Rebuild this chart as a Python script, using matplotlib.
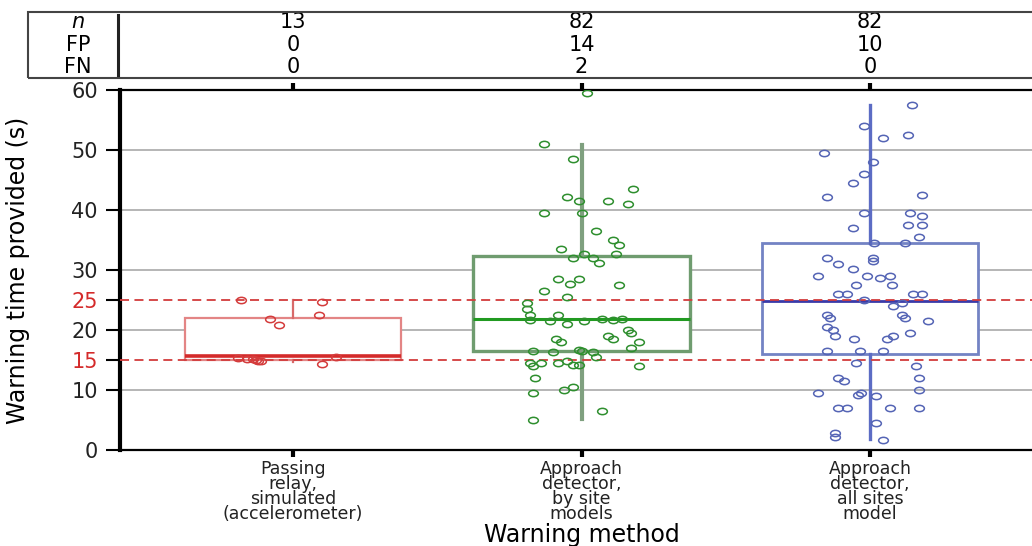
import numpy as np
import matplotlib.pyplot as plt
from matplotlib.patches import Rectangle
from matplotlib.lines import Line2D
from matplotlib.path import Path
from matplotlib.transforms import Affine2D

# Kategorie a popisky
categories = ["Passing\nrelay,\nsimulated\n(accelerometer)",
              "Approach\ndetector,\nby site\nmodels",
              "Approach\ndetector,\nall sites\nmodel"]
n_counts = [13, 82, 82]
fp_counts = [0, 14, 10]
fn_counts = [0, 2, 0]

# Statistiky boxplotu
box_q1 = [15.0, 16.5, 16.0]
box_med = [15.7, 21.8, 24.8]
box_q3 = [22.0, 32.3, 34.5]
whis_lo = [14.6, 5.2, 1.8]
whis_hi = [25.0, 50.8, 57.5]

# Jednotlivá měření (s) a horizontální rozptyl bodů
g1_vals = [25.0, 24.6, 22.5, 21.8, 20.8, 15.5, 15.3, 15.2, 15.1, 15.0, 14.9, 14.8, 14.3]
g1_jit = [-0.18, 0.10, 0.09, -0.08, -0.05, 0.15, -0.19, -0.16, -0.14, -0.13, -0.12, -0.11, 0.10]

g2_vals = [59.5, 51.0, 48.5, 43.5, 42.2, 41.5, 41.5, 41.0, 39.5, 39.5, 36.5, 35.0, 34.2,
           33.5, 32.7, 32.7, 32.0, 32.0, 31.2, 28.5, 28.5, 27.7, 27.5, 26.5, 25.5, 24.5,
           23.5, 22.5, 22.5, 21.7, 21.5, 21.0, 21.5, 21.9, 21.6, 21.9, 20.0, 19.5, 19.0,
           18.5, 18.0, 18.5, 18.0, 17.0, 16.5, 16.3, 16.6, 16.5, 16.4, 15.5, 14.5, 14.0,
           14.5, 14.5, 14.8, 14.2, 14.2, 14.0, 12.0, 10.5, 10.0, 9.5, 6.5, 5.0]
g2_jit = [0.02, -0.13, -0.03, 0.18, -0.05, -0.01, 0.09, 0.16, -0.13, 0.00, 0.05, 0.11, 0.13,
          -0.07, 0.01, 0.12, -0.03, 0.04, 0.06, -0.08, -0.01, -0.04, 0.13, -0.13, -0.05, -0.19,
          -0.19, -0.18, -0.08, -0.18, -0.11, -0.05, 0.01, 0.07, 0.11, 0.14, 0.16, 0.17, 0.09,
          0.11, 0.20, -0.09, -0.07, 0.17, -0.17, -0.10, -0.01, 0.00, 0.04, 0.05, -0.18, -0.17,
          -0.14, -0.08, -0.05, -0.03, -0.01, 0.20, -0.16, -0.03, -0.06, -0.17, 0.07, -0.17]

g3_vals = [57.5, 54.0, 52.5, 52.0, 49.5, 48.0, 46.0, 44.5, 42.2, 42.5, 39.5, 39.5, 39.0,
           37.0, 37.5, 37.5, 35.5, 34.5, 34.5, 32.0, 31.0, 32.0, 31.5, 30.2, 29.0, 29.0,
           28.7, 29.0, 27.5, 27.5, 26.0, 26.0, 26.0, 26.0, 25.0, 24.5, 24.0, 22.5, 22.0,
           22.5, 22.0, 21.5, 20.5, 20.0, 19.0, 18.5, 18.5, 19.0, 19.5, 16.5, 16.5, 16.5,
           14.5, 14.0, 12.0, 11.5, 12.0, 9.5, 9.2, 9.5, 9.0, 10.0, 7.0, 7.0, 7.0, 7.0,
           4.5, 2.8, 2.2, 1.7]
g3_jit = [0.145, -0.02, 0.13, 0.045, -0.16, 0.01, -0.02, -0.06, -0.15, 0.18, -0.02, 0.14, 0.18,
          -0.06, 0.13, 0.18, 0.17, 0.015, 0.12, -0.15, -0.11, 0.01, 0.01, -0.06, -0.18, -0.01,
          0.035, 0.07, 0.075, -0.05, -0.11, -0.08, 0.15, 0.18, -0.02, 0.11, 0.08, -0.15, -0.14,
          0.11, 0.12, 0.20, -0.15, -0.13, -0.12, -0.055, 0.06, 0.08, 0.14, -0.15, -0.035, 0.045,
          -0.05, 0.16, -0.11, -0.09, 0.17, -0.18, -0.04, -0.03, 0.02, 0.17, -0.11, -0.08, 0.07, 0.17,
          0.02, -0.12, -0.12, 0.045]

thresholds = [15, 25]

W, H = 1032, 546
def fx(px):
    return px / W
def fy(py):
    return 1 - py / H

fig = plt.figure(figsize=(W / 100, H / 100), dpi=100)
ax = fig.add_axes([fx(120), fy(450), fx(1032) - fx(120), fy(90) - fy(450)])
ax.set_xlim(-0.6, 2.5615)
ax.set_ylim(0, 60)

# Mřížka
for g in [10, 20, 30, 40, 50]:
    ax.axhline(g, color="#b0b0b0", lw=1.3, zorder=1)

# Boxploty
styles = [
    dict(edge="#e38585", elw=1.6, med="#d42a2a", mlw=2.6, whis="#d86a6a", wlw=1.6, pt="#d43c3c"),
    dict(edge="#6f9c6f", elw=2.4, med="#219a21", mlw=2.2, whis="#7fa07f", wlw=3.0, pt="#2f8f2f"),
    dict(edge="#7383c4", elw=2.0, med="#3a3aa8", mlw=2.0, whis="#5c6cc4", wlw=2.4, pt="#5565b5"),
]
for i, st in enumerate(styles):
    stat = dict(med=box_med[i], q1=box_q1[i], q3=box_q3[i],
                whislo=whis_lo[i], whishi=whis_hi[i], fliers=[])
    ax.bxp([stat], positions=[i], widths=0.75, showcaps=False, showfliers=False,
           patch_artist=True, manage_ticks=False, zorder=2,
           boxprops=dict(facecolor="white", edgecolor=st["edge"], linewidth=st["elw"]),
           medianprops=dict(color=st["med"], linewidth=st["mlw"]),
           whiskerprops=dict(color=st["whis"], linewidth=st["wlw"]))

# Prahové hodnoty
for t in thresholds:
    ax.axhline(t, color="#d23c3c", lw=1.3, ls=(0, (5, 3)), zorder=3)

# Body - mírně zploštělé kroužky
ellipse = Path.unit_circle().transformed(Affine2D().scale(1.0, 0.65))
groups = [(g1_vals, g1_jit), (g2_vals, g2_jit), (g3_vals, g3_jit)]
for i, (vals, jit) in enumerate(groups):
    xs = i + np.array(jit)
    ax.plot(xs, vals, ls="none", marker=ellipse, mfc="none", mec=styles[i]["pt"],
            ms=7, mew=1.1, zorder=4)

# Osy
ax.spines["right"].set_visible(False)
ax.spines["left"].set_linewidth(3)
ax.spines["bottom"].set_linewidth(1.6)
ax.spines["top"].set_linewidth(1.6)

yt = [0, 10, 15, 20, 25, 30, 40, 50, 60]
ax.set_yticks(yt)
ax.tick_params(axis="y", length=10, width=1.5, labelsize=15, pad=6, labelcolor="#222222")
for tick, v in zip(ax.yaxis.get_major_ticks(), yt):
    if v in thresholds:
        tick.label1.set_color("#d42a2a")
        tick.tick1line.set_color("#d42a2a")

ax.set_xticks([0, 1, 2])
ax.set_xticklabels(categories, fontsize=12.5, linespacing=0.8, color="#222222")
ax.tick_params(axis="x", top=True, length=5, width=3, pad=2)

ax.set_xlabel("Warning method", fontsize=17)
ax.xaxis.set_label_coords((582 - 120) / 912, (450 - 523) / 360)
ax.set_ylabel("Warning time provided (s)", fontsize=17)
ax.yaxis.set_label_coords((30 - 120) / 912, 0.5)

# Tabulka nahoře
tax = fig.add_axes([fx(120), fy(78), fx(1032) - fx(120), fy(12) - fy(78)])
tax.set_xlim(ax.get_xlim())
tax.set_ylim(0, 1)
tax.axis("off")
rows = [("n", n_counts, 0.848), ("FP", fp_counts, 0.5), ("FN", fn_counts, 0.167)]
for name, vals, ry in rows:
    for i, v in enumerate(vals):
        tax.text(i, ry, str(v), ha="center", va="center", fontsize=15)
    fig.text(fx(78), fy(78) + ry * (fy(12) - fy(78)), name, ha="center", va="center",
             fontsize=15, style="italic" if name == "n" else "normal")

fig.patches.append(Rectangle((fx(28), fy(78)), 1.2, fy(12) - fy(78), transform=fig.transFigure,
                             fill=False, ec="#444444", lw=1.5))
fig.add_artist(Line2D([fx(118), fx(118)], [fy(75), fy(15)], color="#222222", lw=2.2))

fig.savefig("out.png", dpi=100)
